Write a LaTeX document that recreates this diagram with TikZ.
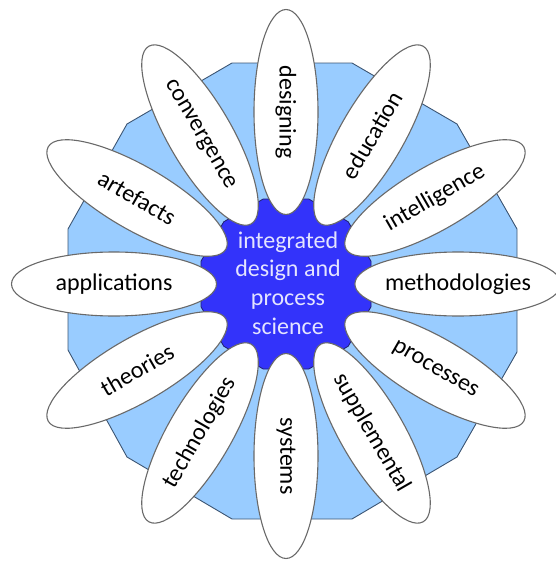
\documentclass[tikz,border=0pt]{standalone}
\usepackage{fontspec}
\setmainfont{Carlito}
\usetikzlibrary{shapes.geometric}
\definecolor{outerfill}{RGB}{153,204,255}
\definecolor{outerline}{RGB}{60,85,115}
\definecolor{corefill}{RGB}{51,51,250}
\definecolor{coreline}{RGB}{30,30,110}
\definecolor{coretext}{RGB}{228,228,255}
\definecolor{petalline}{RGB}{105,105,105}
\tikzset{
  outerpoly/.style={fill=outerfill, draw=outerline, line width=0.9pt},
  corepoly/.style={fill=corefill, draw=coreline, line width=0.8pt},
  petal/.style={ellipse, fill=white, draw=petalline, line width=1.1pt,
    minimum width=205pt, minimum height=64pt, inner sep=0pt,
    font=\fontsize{24}{28.8}\selectfont, text=black},
  coretxt/.style={align=center, text=coretext, inner sep=0pt,
    font=\fontsize{24}{28.8}\selectfont}
}
\begin{document}
\begin{tikzpicture}[x=1pt,y=-1pt]
\useasboundingbox (0,0) rectangle (556,562);
% outer dodecagon
\draw[outerpoly] (517,229) -- (457,124) -- (352,63) -- (232,63) -- (127,124)
  -- (68,229) -- (68,350) -- (127,457) -- (232,519) -- (352,519)
  -- (457,457) -- (517,352) -- cycle;
% core dodecagon
\draw[corepoly] \foreach \k [count=\i] in {0,...,11} {
  \ifnum\i=1 ({286+88*cos(15+30*\k)},{284-88*sin(15+30*\k)}) \else
  -- ({286+88*cos(15+30*\k)},{284-88*sin(15+30*\k)}) \fi } -- cycle;
% petals
\def\pd{172}
\node[petal, rotate=-90] (designing)     at ({286+\pd*cos(90)},{284-\pd*sin(90)}) {designing};
\node[petal, rotate=60]  (education)     at ({286+\pd*cos(60)},{284-\pd*sin(60)}) {education};
\node[petal, rotate=30]  (intelligence)  at ({286+\pd*cos(30)},{284-\pd*sin(30)}) {intelligence};
\node[petal, rotate=0]   (methodologies) at ({286+\pd*cos(0)},{284-\pd*sin(0)}) {methodologies};
\node[petal, rotate=-30] (processes)     at ({286+\pd*cos(-30)},{284-\pd*sin(-30)}) {processes};
\node[petal, rotate=-60] (supplemental)  at ({286+\pd*cos(-60)},{284-\pd*sin(-60)}) {supplemental};
\node[petal, rotate=-90] (systems)       at ({286+\pd*cos(-90)},{284-\pd*sin(-90)}) {systems};
\node[petal, rotate=60]  (technologies)  at ({286+\pd*cos(-120)},{284-\pd*sin(-120)}) {technologies};
\node[petal, rotate=30]  (theories)      at ({286+\pd*cos(-150)},{284-\pd*sin(-150)}) {theories};
\node[petal, rotate=0]   (applications)  at ({286+\pd*cos(180)},{284-\pd*sin(180)}) {applications};
\node[petal, rotate=-30] (artefacts)     at ({286+\pd*cos(150)},{284-\pd*sin(150)}) {artefacts};
\node[petal, rotate=-60] (convergence)   at ({286+\pd*cos(120)},{284-\pd*sin(120)}) {convergence};
% centre text
\node[coretxt] (core) at (288,283) {integrated\\design and\\process\\science};
\end{tikzpicture}
\end{document}
